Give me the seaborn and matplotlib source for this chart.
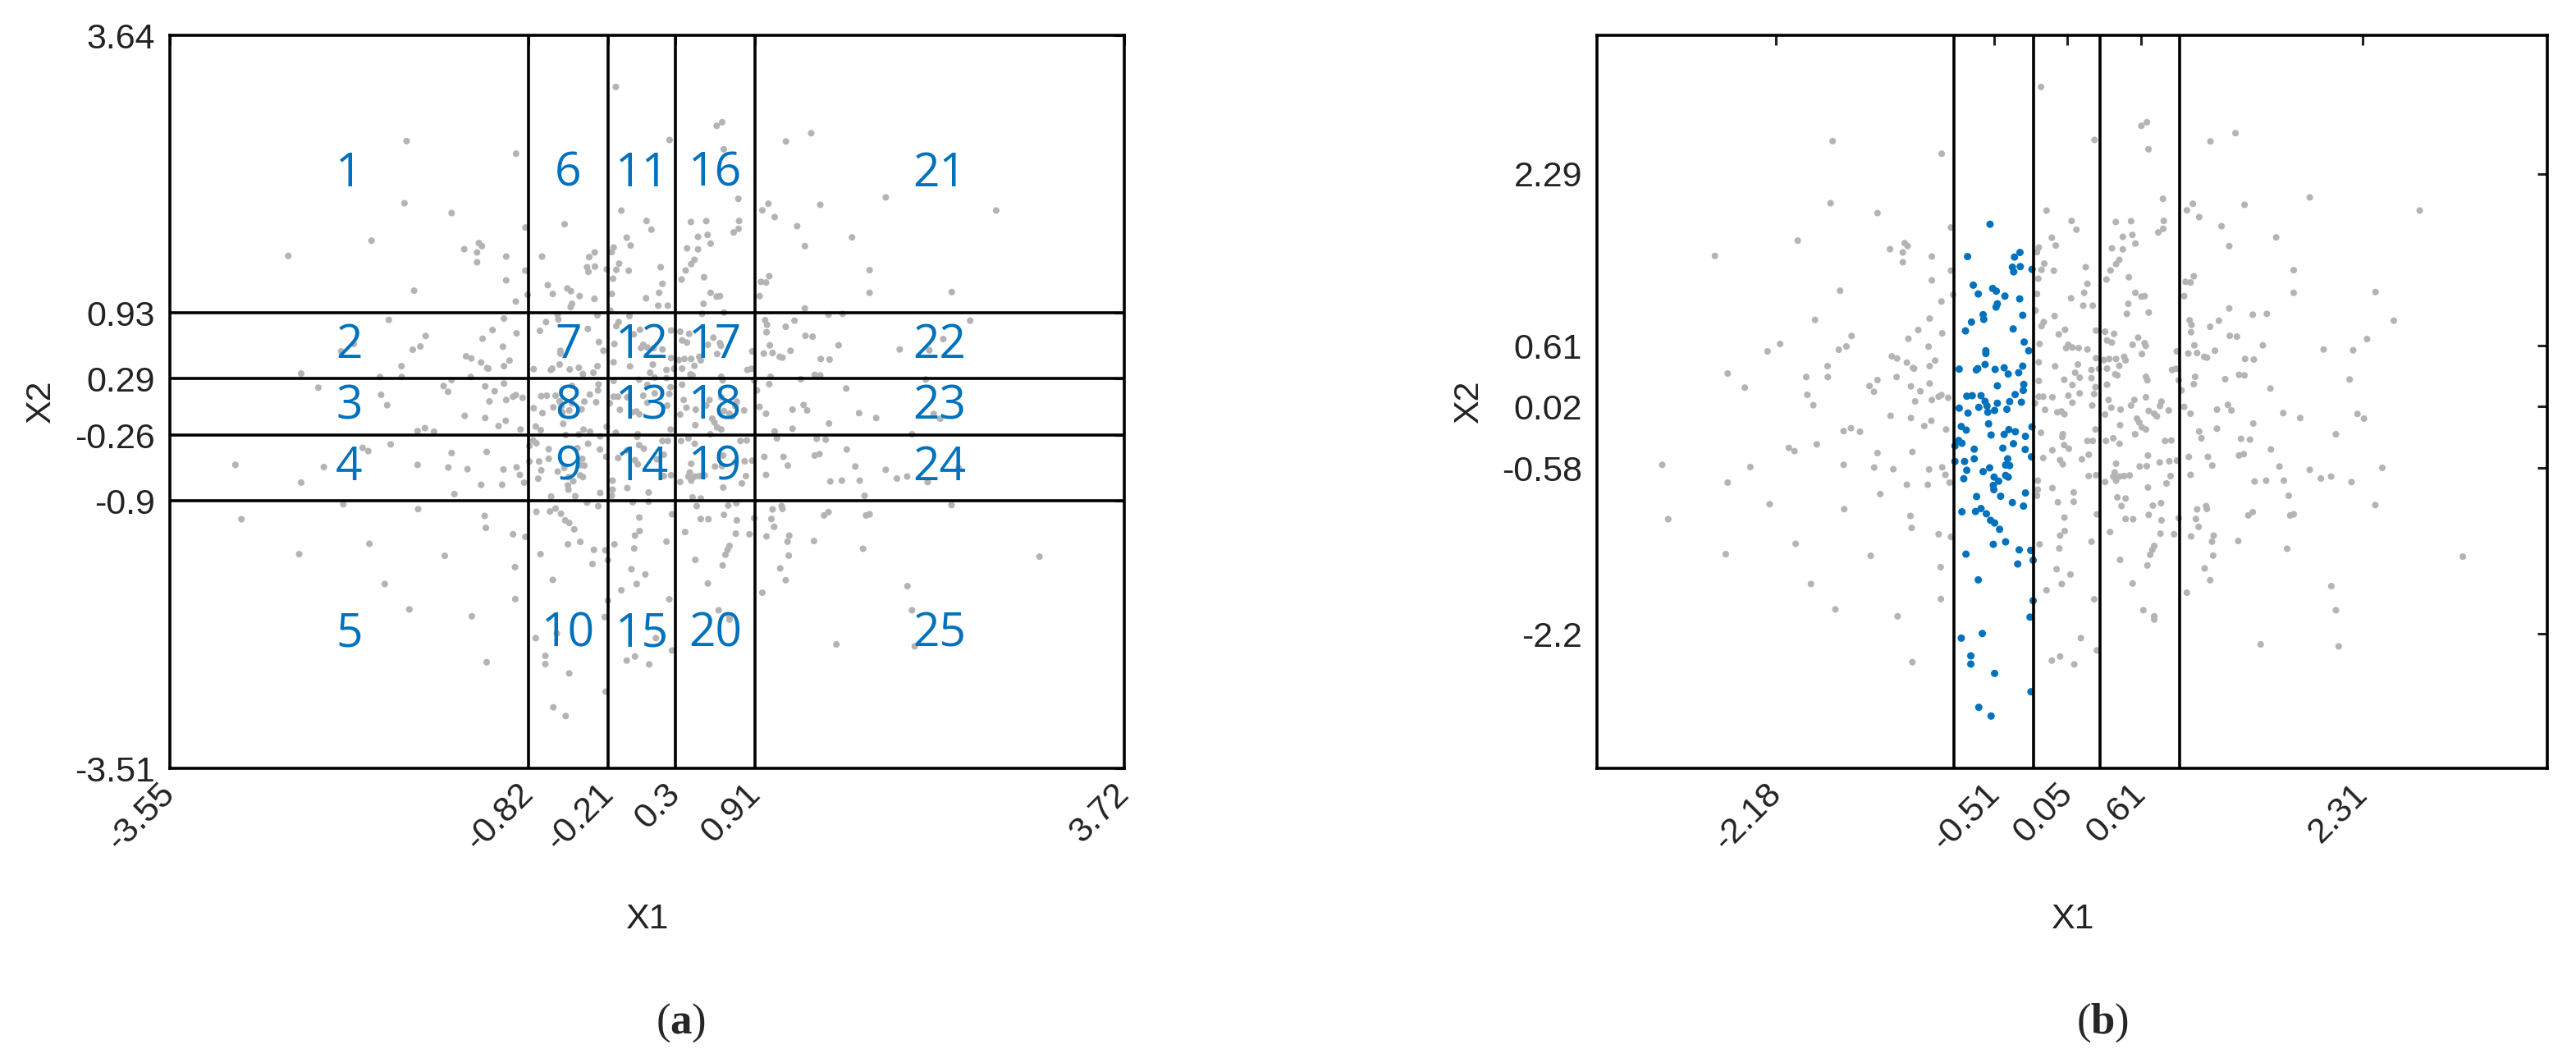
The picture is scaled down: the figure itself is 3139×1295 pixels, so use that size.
import matplotlib
matplotlib.use("Agg")
import matplotlib.pyplot as plt
import seaborn as sns

sns.set_theme(style="white")
plt.rcParams['font.family'] = ['Liberation Sans Narrow', 'Liberation Sans', 'DejaVu Sans']
plt.rcParams['mathtext.fontset'] = 'custom'
plt.rcParams['mathtext.rm'] = 'Liberation Serif'
plt.rcParams['mathtext.bf'] = 'Liberation Serif:bold'

# ---------------- data ----------------
x_bounds = [-3.55, -0.82, -0.21, 0.3, 0.91, 3.72]
y_bounds = [-3.51, -0.9, -0.26, 0.29, 0.93, 3.64]
x_bound_labels = ['-3.55', '-0.82', '-0.21', '0.3', '0.91', '3.72']
y_bound_labels = ['-3.51', '-0.9', '-0.26', '0.29', '0.93', '3.64']

x_mid_ticks = [-2.18, -0.51, 0.05, 0.61, 2.31]
x_mid_labels = ['-2.18', '-0.51', '0.05', '0.61', '2.31']
y_mid_ticks = [-2.2, -0.58, 0.02, 0.61, 2.29]
y_mid_labels = ['-2.2', '-0.58', '0.02', '0.61', '2.29']

# points outside the highlighted column (cells 6-10)
x_other = [
    -1.747, -1.763, -1.404, -2.014, -2.648, -1.308, -1.196, -1.173, -1.210, -1.210,
    -0.913, -0.842, -0.988, -0.842, -0.988,
    -0.153, 0.256, -0.111, 0.081, 0.118, -0.070, -0.040, -0.170, -0.184, -0.128, -0.149, -0.055, 0.189, -0.174,
    0.615, 0.657, 0.669, 0.780, 0.419, 0.536, 0.786, 0.473, 0.546, 0.744, 0.782, 0.569, 0.390, 0.473, 0.446,
    0.421, 0.379, 0.519, 0.348,
    1.143, 0.963, 1.009, 1.057, 1.228, 1.287, 1.016, 0.953,
    1.335, 1.404, 1.903, 2.744, 1.646, 1.780,
    -1.690, -1.882, -2.149, -2.245, -1.602, -1.642, -1.700, -2.550, -2.419, -1.786, -1.949, -1.784, -1.941,
    -1.895, -1.294, -1.254, -1.168, -1.179, -1.133, -1.258, -1.404, -1.465, -1.431, -1.148, -1.116, -1.304,
    -1.148, -1.663, -1.607, -1.538, -2.082, -2.039, -1.868, -1.404, -1.137, -3.051, -2.377, -1.663, -1.429,
    -1.283, -2.550, -1.179, -1.383, -2.229, -1.659, -3.005, -1.152,
    -0.915, -0.825, -1.005, -1.092, -0.909, -1.013, -0.963, -1.005, -1.124, -1.005, -1.076, -0.988, -0.936,
    -0.915, -0.863, -0.992, -1.046, -0.879, -1.009, -0.909, -0.884, -0.852, -1.019,
    -0.184, 0.202, 0.177, 0.077, 0.170, 0.243, -0.195, -0.049, -0.132, -0.149, 0.031, -0.017, 0.268, -0.164,
    0.056, 0.039, 0.087, 0.135, 0.202, 0.268, -0.170, -0.045, 0.129, 0.108, 0.143, 0.233, 0.290, 0.233,
    -0.170, 0.024, 0.087, 0.264, -0.170, -0.136, -0.066, 0.056, 0.143, 0.254, -0.199, 0.087, 0.239, -0.122,
    -0.028, 0.003, 0.026, -0.153, 0.014, 0.010, 0.264, 0.243, 0.202, 0.024, 0.060, -0.066, -0.136, -0.007,
    0.014, 0.160, 0.212, 0.212, 0.268, -0.178, -0.178, -0.184, -0.066, 0.097, -0.024, 0.097, 0.275, 0.026,
    0.569, 0.615, 0.640, 0.515, 0.504, 0.671, 0.337, 0.406, 0.352, 0.389, 0.590, 0.548, 0.640, 0.648, 0.619,
    0.327, 0.369, 0.421, 0.483, 0.494, 0.352, 0.446, 0.415, 0.431, 0.650, 0.661, 0.352, 0.886, 0.849, 0.880,
    0.901, 0.922, 0.650, 0.364, 0.561, 0.536, 0.769, 0.757, 0.385, 0.456, 0.671, 0.713, 0.734, 0.824, 0.337,
    0.581, 0.598, 0.619, 0.650, 0.452, 0.567, 0.344, 0.400, 0.448, 0.796, 0.844, 0.665, 0.421, 0.602, 0.656,
    0.755, 0.828, 0.886, 0.410, 0.400, 0.448, 0.483, 0.525, 0.421, 0.337, 0.838, 0.807, 0.665, 0.431, 0.494,
    0.463, 0.703, 0.765, 0.671, 0.494, 0.552, 0.769, 0.901,
    0.991, 0.942, 1.287, 0.984, 0.999, 0.995, 1.208, 1.141, 1.291, 1.020, 0.974, 1.041, 1.095, 1.116, 1.178,
    1.026, 1.016, 1.256, 1.277, 0.942, 0.991, 1.193, 1.193, 1.057, 1.074, 0.978, 1.124, 1.157, 0.991, 1.041,
    1.110, 1.116, 1.032,
    1.780, 2.406, 1.467, 1.575, 2.546, 1.346, 1.544, 2.009, 2.235, 2.341, 1.408, 1.475, 1.362, 1.404, 2.208,
    1.602, 1.304, 1.700, 1.830, 2.268, 2.318, 1.471, 2.103, 1.377, 1.446, 1.606, 1.362, 1.398, 1.671, 1.903,
    2.458, 1.988, 2.066, 2.222, 1.481, 1.569, 1.705, 1.742, 2.404, 1.433, 1.467, 1.753, 1.780,
    -1.143, -2.565, -2.030, -1.456, -1.913, -1.726, -1.250, -1.137,
    -0.936, -0.842, -0.921, -0.919, -0.164, -0.007, 0.028, -0.013, 0.233, -0.034, 0.072, 0.006, -0.111, 0.254,
    0.152, 0.275, -0.070, -0.007, 0.101, 0.375, 0.761, 0.865, 0.452, 0.713, 0.698, 0.682, 0.661, 0.548, 0.630,
    0.713, 0.713, 1.053, 0.995, 1.168, 1.155, 1.164, 1.099, 1.141, 0.963,
    1.356, 1.730, 3.074, 2.068, 2.103, 1.527, 2.124,
]
y_other = [
    2.608, 2.002, 1.906, 1.637, 1.488, 1.554, 1.613, 1.584, 1.522, 1.426,
    2.485, 1.765, 1.482, 1.344, 1.250,
    3.136, 2.619, 1.930, 1.829, 1.744, 1.666, 1.589, 1.570, 1.525, 1.413, 1.352, 1.344, 1.378, 1.266,
    2.757, 2.792, 2.528, 2.045, 1.819, 1.827, 1.829, 1.674, 1.693, 1.717, 1.752, 1.608, 1.562, 1.552, 1.450,
    1.408, 1.346, 1.280, 1.258,
    2.605, 1.933, 1.997, 1.867, 1.778, 1.584, 1.290, 1.235,
    2.685, 1.987, 2.059, 1.931, 1.669, 1.349,
    1.149, 0.864, 0.629, 0.557, 0.707, 0.605, 0.573, 0.341, 0.203, 0.413, 0.307, 0.307, 0.133,
    0.032, 0.509, 0.488, 0.680, 0.448, 0.395, 0.307, 0.277, 0.219, 0.163, 0.216, 0.069, -0.072,
    -0.093, -0.221, -0.192, -0.227, -0.384, -0.416, -0.350, -0.435, -0.424, -0.550, -0.571, -0.550, -0.576,
    -0.592, -0.723, -0.744, -0.835, -0.934, -0.982, -1.080, -1.048,
    1.043, 1.109, 0.877, 0.765, 0.733, 0.603, 0.467, 0.413, 0.389, 0.243, 0.168, 0.083, 0.115,
    0.131, 0.104, -0.120, -0.171, -0.205, -0.595, -0.574, -0.648, -0.723, -0.744,
    1.117, 1.216, 1.128, 1.075, 1.003, 1.003, 0.955, 0.901, 0.843, 0.803, 0.768, 0.723, 0.760, 0.629,
    0.621, 0.589, 0.595, 0.589, 0.576, 0.491, 0.451, 0.411, 0.429, 0.349, 0.301, 0.376, 0.387, 0.296,
    0.269, 0.280, 0.229, 0.208, 0.115, 0.115, 0.109, 0.125, 0.147, 0.141, 0.051, 0.056, 0.029, -0.013,
    -0.037, -0.029, -0.056, -0.237, -0.251, -0.277, -0.205, -0.317, -0.317, -0.357, -0.392, -0.408, -0.483, -0.504,
    -0.544, -0.496, -0.451, -0.659, -0.651, -0.704, -0.792, -0.851, -0.776, -0.819, -0.915, -0.910, -1.032, -1.064,
    1.128, 1.091, 1.096, 1.021, 0.923, 0.936, 0.749, 0.728, 0.664, 0.643, 0.691, 0.621, 0.637, 0.611, 0.531,
    0.472, 0.483, 0.483, 0.504, 0.469, 0.389, 0.416, 0.333, 0.323, 0.309, 0.275, 0.232, 0.557, 0.376, 0.387,
    0.275, 0.176, 0.109, 0.083, 0.083, 0.029, 0.067, 0.024, 0.008, -0.011, -0.024, -0.051, -0.077, -0.019, -0.059,
    -0.099, -0.136, -0.184, -0.205, -0.163, -0.251, -0.317, -0.291, -0.344, -0.317, -0.312, -0.459, -0.539, -0.566, -0.563,
    -0.526, -0.515, -0.509, -0.624, -0.664, -0.664, -0.659, -0.653, -0.704, -0.717, -0.659, -0.731, -0.771, -0.867, -0.878,
    -0.952, -0.947, -0.923, -1.038, -1.078, -1.080, -1.091, -1.070,
    1.229, 1.096, 0.976, 0.861, 0.816, 0.744, 0.856, 0.797, 0.709, 0.616, 0.536, 0.541, 0.504, 0.496, 0.563,
    0.309, 0.237, 0.285, 0.035, 0.016, -0.051, -0.011, -0.197, -0.224, -0.291, -0.472, -0.472, -0.557, -0.648, -0.984,
    -0.952, -0.979, -1.078,
    1.128, 1.136, 0.915, 0.923, 0.856, 0.701, 0.616, 0.576, 0.568, 0.677, 0.483, 0.477, 0.328, 0.323, 0.283,
    0.195, -0.019, -0.045, -0.093, -0.053, -0.099, -0.147, -0.251, -0.296, -0.304, -0.400, -0.459, -0.445, -0.566, -0.598,
    -0.579, -0.683, -0.664, -0.718, -0.712, -0.704, -0.704, -0.851, -0.942, -1.043, -1.011, -1.043, -1.032,
    -1.165, -1.421, -1.320, -1.437, -1.712, -1.960, -2.027, -2.475,
    -1.227, -1.253, -1.547, -1.859, -1.325, -1.240, -1.195, -1.365, -1.299, -1.568, -1.619, -1.712, -1.773, -1.861,
    -2.240, -2.360, -2.459, -2.419, -2.496, -1.205, -1.221, -1.227, -1.477, -1.341, -1.379, -1.427, -1.531, -1.707, -1.968,
    -2.027, -2.059, -1.155, -1.248, -1.240, -1.299, -1.435, -1.560, -1.675, -1.797,
    -1.293, -1.368, -1.445, -1.733, -1.968, -2.301, -2.320,
]

# points inside the highlighted column (-0.82 < X1 < -0.21)
x_cell = [
    -0.543, -0.715, -0.356, -0.314, -0.372, -0.362, -0.312, -0.222,
    -0.671, -0.633, -0.523, -0.495, -0.429, -0.316, -0.487, -0.497, -0.596, -0.591, -0.293, -0.685, -0.731,
    -0.366, -0.282, -0.247, -0.575, -0.575, -0.581, -0.779, -0.648, -0.637, -0.504, -0.435, -0.404, -0.324,
    -0.293, -0.487, -0.285, -0.289, -0.351, -0.721, -0.679, -0.612, -0.581, -0.487, -0.393, -0.303, -0.779,
    -0.629, -0.566, -0.560, -0.508, -0.414, -0.712, -0.554, -0.763, -0.725, -0.222, -0.399, -0.349, -0.535,
    -0.435, -0.272, -0.783, -0.758, -0.811, -0.364, -0.664, -0.445, -0.274, -0.226, -0.664, -0.811, -0.738,
    -0.408, -0.424, -0.393, -0.721, -0.546, -0.596, -0.424, -0.404, -0.744, -0.512, -0.477, -0.518, -0.514,
    -0.462, -0.646, -0.272, -0.372, -0.287, -0.758, -0.654, -0.612, -0.571, -0.539, -0.508,
    -0.470, -0.518, -0.424, -0.727, -0.320, -0.232, -0.331, -0.213, -0.633, -0.213, -0.237, -0.763, -0.602,
    -0.690, -0.690, -0.508, -0.230, -0.629, -0.535,
]
y_cell = [
    1.797, 1.482, 1.477, 1.522, 1.378, 1.333, 1.384, 1.357,
    1.203, 1.117, 1.171, 1.144, 1.096, 1.069, 1.021, 0.989, 0.915, 0.869, 0.909, 0.843, 0.757,
    0.776, 0.648, 0.563, 0.563, 0.536, 0.429, 0.384, 0.376, 0.389, 0.381, 0.397, 0.336, 0.349,
    0.413, 0.221, 0.235, 0.176, 0.136, 0.120, 0.125, 0.125, 0.069, 0.051, 0.067, 0.061, 0.003,
    0.011, 0.024, -0.037, -0.019, -0.008, -0.045, -0.150, -0.176, -0.211, -0.179, -0.206, -0.227, -0.259,
    -0.253, -0.272, -0.312, -0.339, -0.365, -0.344, -0.397, -0.387, -0.400, -0.472, -0.491, -0.517, -0.517,
    -0.491, -0.552, -0.557, -0.603, -0.579, -0.616, -0.653, -0.669, -0.685, -0.669, -0.709, -0.750, -0.792,
    -0.856, -0.859, -0.824, -0.918, -0.952, -1.008, -1.005, -0.976, -1.027, -1.091, -1.117,
    -1.179, -1.325, -1.301, -1.421, -1.379, -1.384, -1.517, -1.480, -1.672, -1.875, -2.035, -2.240, -2.195,
    -2.413, -2.493, -2.584, -2.763, -2.915, -3.000,
]

# ---------------- style ----------------
GRAY = '#b4b4b4'
BLUE = '#0072BD'
W, H = 3139, 1295
fig = plt.figure(figsize=(W / 100, H / 100), dpi=100)

ax_a = fig.add_axes([207 / W, 1 - 936 / H, 1163 / W, 893 / H])
ax_b = fig.add_axes([1946 / W, 1 - 936 / H, 1158 / W, 893 / H])

x_all = x_other + x_cell
y_all = y_other + y_cell

# panel (a)
sns.scatterplot(x=x_all, y=y_all, ax=ax_a, color=GRAY, s=34, linewidth=0, edgecolor='none')
for xv in x_bounds[1:-1]:
    ax_a.axvline(xv, color='black', lw=2.6, zorder=3)
for yv in y_bounds[1:-1]:
    ax_a.axhline(yv, color='black', lw=2.6, zorder=3)

y_desc = y_bounds[::-1]
for c in range(5):
    for r in range(5):
        cx = (x_bounds[c] + x_bounds[c + 1]) / 2
        cy = (y_desc[r] + y_desc[r + 1]) / 2
        ax_a.text(cx, cy, str(c * 5 + r + 1), color=BLUE, fontsize=41,
                  family=['Open Sans', 'DejaVu Sans'], ha='center', va='center', zorder=4)

ax_a.set_xticks(x_bounds)
ax_a.set_xticklabels(x_bound_labels)
ax_a.set_yticks(y_bounds)
ax_a.set_yticklabels(y_bound_labels)

# panel (b)
sns.scatterplot(x=x_other, y=y_other, ax=ax_b, color=GRAY, s=34, linewidth=0, edgecolor='none')
sns.scatterplot(x=x_cell, y=y_cell, ax=ax_b, color=BLUE, s=42, linewidth=0, edgecolor='none')
for xv in x_bounds[1:-1]:
    ax_b.axvline(xv, color='black', lw=2.6, zorder=3)
ax_b.set_xticks(x_mid_ticks)
ax_b.set_xticklabels(x_mid_labels)
ax_b.set_yticks(y_mid_ticks)
ax_b.set_yticklabels(y_mid_labels)

for ax in (ax_a, ax_b):
    ax.set_xlim(x_bounds[0], x_bounds[-1])
    ax.set_ylim(y_bounds[0], y_bounds[-1])
    for sp in ax.spines.values():
        sp.set_visible(True)
        sp.set_color('black')
        sp.set_linewidth(2.6)
    ax.tick_params(direction='in', length=8.5, width=2.2, top=True, right=True,
                   labelsize=31, colors='#222222', pad=13)
    ax.tick_params(axis='x', pad=18)
    for lab in ax.get_xticklabels():
        lab.set_rotation(45)
        lab.set_ha('right')
        lab.set_va('center')
        lab.set_rotation_mode('anchor')
    ax.set_xlabel('X1', fontsize=31, color='#222222')
    ax.set_ylabel('X2', fontsize=31, color='#222222')
    ax.xaxis.set_label_coords(0.5, -0.206)
    ax.xaxis.label.set_va('center')
    ax.yaxis.set_label_coords(-0.135, 0.5)
    ax.yaxis.label.set_va('center')

fig.text(830 / W, 1 - 1246 / H, r'$\mathrm{(}\mathbf{a}\mathrm{)}$', fontsize=38, ha='center', va='center')
fig.text(2562 / W, 1 - 1246 / H, r'$\mathrm{(}\mathbf{b}\mathrm{)}$', fontsize=38, ha='center', va='center')

fig.savefig('out.png', dpi=100, facecolor='white')
